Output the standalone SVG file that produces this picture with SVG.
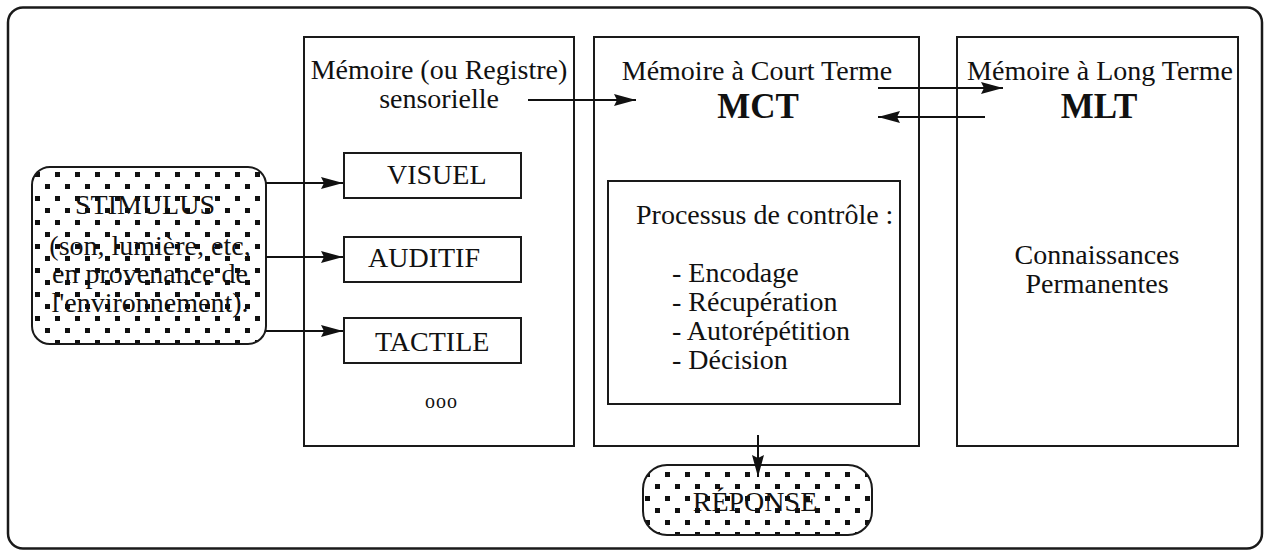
<svg xmlns="http://www.w3.org/2000/svg" width="1264" height="551" viewBox="0 0 1264 551">
<style>
  .box { fill: #fff; stroke: #1a1a1a; stroke-width: 2; }
  .frame { fill: #fff; stroke: #1a1a1a; stroke-width: 2.5; }
  .dotted { fill: url(#dots); stroke: #1a1a1a; stroke-width: 2; }
  .t { font-family: "Liberation Serif", "Times New Roman", serif; font-size: 28px; fill: #111; }
  .c { text-anchor: middle; }
  .big { font-size: 35px; font-weight: bold; }
  .conn line { stroke: #111; stroke-width: 2; fill: none; marker-end: url(#ah); }
</style>
<defs>
  <pattern id="dots" patternUnits="userSpaceOnUse" x="33" y="170" width="20" height="24">
    <rect width="20" height="24" fill="#fff"/>
    <rect x="2" y="2" width="5" height="5" fill="#111"/>
    <rect x="12" y="14" width="5" height="5" fill="#111"/>
  </pattern>
  <marker id="ah" markerUnits="userSpaceOnUse" markerWidth="24" markerHeight="14" refX="22" refY="6" orient="auto" overflow="visible">
    <path d="M0,0 L22,6 L0,12 L3,6 Z" fill="#111"/>
  </marker>
</defs>

<rect id="frame" class="frame" x="8" y="7.5" width="1254" height="541" rx="15"/>

<g id="sensory">
  <rect class="box" x="304" y="37" width="270" height="409"/>
  <text class="t c" x="439" y="79">Mémoire (ou Registre)</text>
  <text class="t c" x="439" y="108">sensorielle</text>
</g>

<g id="visuel">
  <rect class="box" x="344" y="153" width="177" height="45"/>
  <text class="t" x="387" y="184">VISUEL</text>
</g>
<g id="auditif">
  <rect class="box" x="344" y="237" width="177" height="45"/>
  <text class="t" x="368" y="267">AUDITIF</text>
</g>
<g id="tactile">
  <rect class="box" x="344" y="318" width="177" height="45"/>
  <text class="t" x="375" y="351">TACTILE</text>
</g>
<g id="etc">
  <text class="t" x="425" y="408" style="font-size:20px;letter-spacing:1px">ooo</text>
</g>

<g id="mct">
  <rect class="box" x="594" y="37" width="325" height="409"/>
  <text class="t c" x="757" y="80">Mémoire à Court Terme</text>
  <text class="t c big" x="758" y="118">MCT</text>
</g>

<g id="controle">
  <rect class="box" x="608" y="181" width="292" height="223"/>
  <text class="t" x="636" y="224">Processus de contrôle :</text>
  <text class="t" x="672" y="282">- Encodage</text>
  <text class="t" x="672" y="311">- Récupération</text>
  <text class="t" x="672" y="340">- Autorépétition</text>
  <text class="t" x="672" y="369">- Décision</text>
</g>

<g id="mlt">
  <rect class="box" x="957" y="37" width="281" height="409"/>
  <text class="t c" x="1100" y="80">Mémoire à Long Terme</text>
  <text class="t c big" x="1099" y="118">MLT</text>
  <text class="t c" x="1097" y="264">Connaissances</text>
  <text class="t c" x="1097" y="293">Permanentes</text>
</g>

<g id="stimulus">
  <rect class="dotted" x="32" y="167" width="234" height="177" rx="18"/>
  <text class="t c" x="145" y="214">STIMULUS</text>
  <text class="t c" x="150" y="255">(son, lumière, etc,</text>
  <text class="t c" x="150" y="283">en provenance de</text>
  <text class="t c" x="150" y="312">l'environnement).</text>
</g>

<g id="reponse">
  <rect class="dotted" x="643" y="465" width="229" height="70" rx="24"/>
  <text class="t c" x="755" y="511">RÉPONSE</text>
</g>

<g id="connectors" class="conn">
  <line x1="266" y1="183" x2="343" y2="183"/>
  <line x1="266" y1="257" x2="343" y2="257"/>
  <line x1="266" y1="331" x2="343" y2="331"/>
  <line x1="528" y1="100" x2="636" y2="100"/>
  <line x1="878" y1="88" x2="1003" y2="88"/>
  <line x1="985" y1="117" x2="878" y2="117"/>
  <line x1="758" y1="435" x2="758" y2="477"/>
</g>
</svg>
